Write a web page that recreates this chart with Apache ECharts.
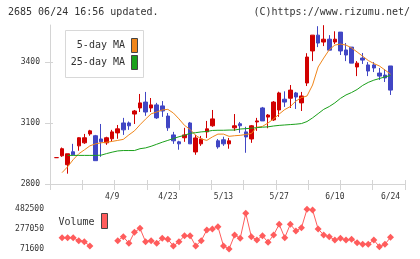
<!DOCTYPE html>
<html>
<head>
<meta charset="utf-8">
<script src="https://cdn.jsdelivr.net/npm/echarts@6/dist/echarts.min.js"></script>
<style>
html, body { margin: 0; padding: 0; background: #fff; }
#chart { width: 420px; height: 259px; }
</style>
</head>
<body>
<div id="chart"></div>
<script>
// 日付（10本ごとにラベル）
var dates = ['3/26', '3/27', '3/28', '3/29', '4/1', '4/2', '4/3', '4/4', '4/5', '4/8',
    '4/9', '4/10', '4/11', '4/12', '4/15', '4/16', '4/17', '4/18', '4/19', '4/22',
    '4/23', '4/24', '4/25', '4/26', '5/1', '5/2', '5/7', '5/8', '5/9', '5/10',
    '5/13', '5/14', '5/15', '5/16', '5/17', '5/20', '5/21', '5/22', '5/23', '5/24',
    '5/27', '5/28', '5/29', '5/30', '5/31', '6/3', '6/4', '6/5', '6/6', '6/7',
    '6/10', '6/11', '6/12', '6/13', '6/14', '6/17', '6/18', '6/19', '6/20', '6/21',
    '6/24'];

var openP = [2930, 2939, 2895, 2959, 2988, 3003, 3047, 3038, 3022, 3003,
    3023, 3052, 3101, 3101, 3145, 3175, 3204, 3175, 3190, 3185,
    3135, 3042, 3008, 3028, 3101, 2958, 2998, 3057, 3087, 3013,
    3018, 2998, 3077, 3097, 3057, 3022, 3106, 3175, 3130, 3116,
    3165, 3218, 3223, 3249, 3200, 3298, 3456, 3534, 3500, 3514,
    3500, 3549, 3461, 3475, 3377, 3421, 3387, 3387, 3347, 3337,
    3382];
var closeP = [2930, 2974, 2949, 2944, 3028, 3028, 3062, 2915, 3008, 3028,
    3057, 3072, 3067, 3087, 3160, 3200, 3155, 3190, 3126, 3160,
    3077, 3013, 2998, 3042, 2998, 3027, 3022, 3072, 3121, 2983,
    2998, 3013, 3087, 3087, 3032, 3087, 3111, 3111, 3140, 3204,
    3249, 3204, 3263, 3229, 3234, 3426, 3534, 3495, 3514, 3460,
    3514, 3456, 3436, 3396, 3396, 3411, 3357, 3372, 3332, 3323,
    3263];
var lowP = [2930, 2934, 2851, 2944, 2964, 2998, 3038, 2915, 2934, 2993,
    3008, 3023, 3042, 3067, 3096, 3155, 3136, 3155, 3121, 3131,
    3062, 2998, 2969, 3008, 2998, 2944, 2988, 3027, 3082, 2974,
    2988, 2974, 3062, 3052, 2954, 3003, 3062, 3111, 3075, 3111,
    3131, 3180, 3175, 3170, 3160, 3283, 3406, 3475, 3480, 3460,
    3490, 3436, 3406, 3396, 3332, 3392, 3332, 3352, 3313, 3303,
    3239];
var highP = [2930, 2980, 2949, 2998, 3030, 3047, 3067, 3042, 3096, 3033,
    3067, 3091, 3126, 3108, 3165, 3244, 3254, 3224, 3200, 3209,
    3150, 3057, 3013, 3077, 3106, 3042, 3037, 3111, 3165, 3022,
    3033, 3027, 3145, 3106, 3082, 3091, 3126, 3180, 3145, 3209,
    3255, 3257, 3288, 3254, 3254, 3445, 3534, 3578, 3583, 3534,
    3553, 3549, 3495, 3475, 3406, 3446, 3401, 3401, 3372, 3367,
    3382];

// 移動平均
var ma5 = [null, 2856, 2885, 2920, 2949, 2968, 2988, 2998, 3003, 3006,
    3010, 3015, 3020, 3042, 3062, 3092, 3120, 3146, 3155, 3165,
    3168, 3150, 3121, 3089, 3069, 3040, 3022, 3015, 3032, 3046,
    3046, 3035, 3038, 3040, 3044, 3049, 3080, 3084, 3101, 3121,
    3145, 3167, 3182, 3209, 3226, 3234, 3288, 3377, 3421, 3462,
    3485, 3490, 3485, 3471, 3451, 3430, 3409, 3394, 3382, 3362,
    3342];
var ma25 = [null, null, 2941, 2941, 2941, 2941, 2941, 2941, 2942, 2950,
    2957, 2963, 2965, 2965, 2965, 2974, 2978, 2986, 2996, 3006,
    3015, 3024, 3033, 3040, 3050, 3053, 3057, 3059, 3064, 3065,
    3065, 3066, 3066, 3071, 3073, 3075, 3078, 3080, 3082, 3086,
    3089, 3091, 3093, 3095, 3098, 3108, 3126, 3147, 3168, 3182,
    3200, 3222, 3239, 3251, 3266, 3286, 3301, 3312, 3320, 3328,
    3335];

// 出来高
var volume = [null, 188600, 188600, 188600, 157500, 147200, 102700, null, null, null,
    null, 157500, 198900, 130600, 244400, 285800, 147200, 157500, 130600, 182300,
    172000, 102700, 147200, 209300, 209300, 102700, 157500, 268300, 278600, 302400,
    102700, 71600, 216500, 182300, 441100, 198900, 164800, 209300, 140900, 216500,
    327200, 188600, 327200, 257900, 292000, 482500, 475200, 278600, 216500, 198900,
    164800, 182300, 164800, 172000, 136800, 120200, 120200, 164800, 95400, 120200,
    192700];

var priceTicks = [2800, 3100, 3400];
var volumeTicks = [71600, 277050, 482500];

var mono = '"DejaVu Sans Mono", monospace';
var axisColor = '#d4d4d4';
var upColor = '#d10000';
var downColor = '#4146c4';
var plain = function (v) { return String(v); };

var candles = [];
for (var i = 0; i < dates.length; i++) {
    candles.push([openP[i], closeP[i], lowP[i], highP[i]]);
}

var myChart = echarts.init(document.getElementById('chart'));
var option = {
    animation: false,
    backgroundColor: '#fff',
    grid: [
        {left: 50, top: 25, width: 355, height: 159},          // 枠・目盛
        {left: 53.7, top: 25, width: 339.6, height: 159},      // ローソク足
        {left: 53.7, top: 209.3, width: 339.6, height: 39.7}   // 出来高
    ],
    xAxis: [
        {
            gridIndex: 0, type: 'value', min: 0, max: 11, interval: 1, position: 'bottom',
            axisLine: {show: true, onZero: false, lineStyle: {color: axisColor}},
            axisTick: {show: true, length: 6, lineStyle: {color: axisColor}},
            axisLabel: {show: false}, splitLine: {show: false}
        },
        {
            gridIndex: 0, type: 'value', min: 0, max: 11, interval: 1, position: 'bottom',
            axisLine: {show: false, onZero: false},
            axisTick: {show: true, inside: true, length: 4, lineStyle: {color: axisColor}},
            axisLabel: {show: false}, splitLine: {show: false}
        },
        {
            gridIndex: 1, type: 'category', data: dates, boundaryGap: true,
            axisLine: {show: false}, axisTick: {show: false}, splitLine: {show: false},
            axisLabel: {
                interval: function (index) {
                    return index > 0 && (dates.length - 1 - index) % 10 === 0;
                },
                fontFamily: mono, fontSize: 8, color: '#333', margin: 9
            }
        },
        {gridIndex: 2, type: 'category', data: dates, boundaryGap: true, show: false}
    ],
    yAxis: [
        {
            gridIndex: 0, type: 'value', min: 2800, max: 3584, position: 'left',
            axisLine: {show: true, onZero: false, lineStyle: {color: axisColor}},
            axisTick: {show: true, length: 5, customValues: priceTicks, lineStyle: {color: axisColor}},
            axisLabel: {customValues: priceTicks, margin: 10, fontFamily: mono, fontSize: 8, color: '#333', formatter: plain},
            splitLine: {show: false}
        },
        {
            gridIndex: 0, type: 'value', min: 2800, max: 3584, position: 'left',
            axisLine: {show: false, onZero: false},
            axisTick: {show: true, inside: true, length: 3, customValues: priceTicks, lineStyle: {color: axisColor}},
            axisLabel: {show: false}, splitLine: {show: false}
        },
        {gridIndex: 1, type: 'value', min: 2800, max: 3584, show: false},
        {
            gridIndex: 2, type: 'value', min: 71600, max: 482500,
            axisLine: {show: false}, axisTick: {show: false}, splitLine: {show: false},
            axisLabel: {customValues: volumeTicks, margin: 9.7, fontFamily: mono, fontSize: 8, color: '#333', formatter: plain}
        }
    ],
    series: [
        {
            name: '5-day MA', type: 'line', xAxisIndex: 2, yAxisIndex: 2, data: ma5,
            showSymbol: false, silent: true,
            lineStyle: {color: '#f0861a', width: 1}
        },
        {
            name: '25-day MA', type: 'line', xAxisIndex: 2, yAxisIndex: 2, data: ma25,
            showSymbol: false, silent: true,
            lineStyle: {color: '#1aa01a', width: 1}
        },
        {
            name: 'price', type: 'candlestick', xAxisIndex: 2, yAxisIndex: 2, data: candles,
            barWidth: 4,
            itemStyle: {
                color: upColor, color0: downColor,
                borderColor: upColor, borderColor0: downColor, borderColorDoji: upColor,
                borderWidth: 1
            }
        },
        {
            name: 'Volume', type: 'line', xAxisIndex: 3, yAxisIndex: 3, data: volume,
            symbol: 'diamond', symbolSize: 7, showSymbol: true, showAllSymbol: true,
            connectNulls: false,
            lineStyle: {color: '#ff5c5c', width: 1},
            itemStyle: {color: '#ff5c5c'}
        }
    ],
    graphic: [
        {type: 'text', z: 100, style: {text: '2685 06/24 16:56 updated.', x: 8, y: 12.5, fill: '#333', font: '10px ' + mono, verticalAlign: 'middle'}},
        {type: 'text', z: 100, style: {text: '(C)https://www.rizumu.net/', x: 410, y: 12.5, fill: '#333', font: '10px ' + mono, align: 'right', verticalAlign: 'middle'}},
        // 凡例
        {type: 'rect', z: 100, shape: {x: 65.5, y: 30.5, width: 78, height: 47}, style: {fill: '#fff', stroke: '#d8d8d8', lineWidth: 1}},
        {type: 'text', z: 101, style: {text: '5-day MA', x: 125, y: 45.5, fill: '#333', font: '10px ' + mono, align: 'right', verticalAlign: 'middle'}},
        {type: 'text', z: 101, style: {text: '25-day MA', x: 125, y: 62.5, fill: '#333', font: '10px ' + mono, align: 'right', verticalAlign: 'middle'}},
        {type: 'rect', z: 101, shape: {x: 131.5, y: 38.5, width: 6, height: 14}, style: {fill: '#f0861a', stroke: '#444', lineWidth: 1}},
        {type: 'rect', z: 101, shape: {x: 131.5, y: 55.5, width: 6, height: 14}, style: {fill: '#1aa01a', stroke: '#444', lineWidth: 1}},
        {type: 'text', z: 101, style: {text: 'Volume', x: 58.5, y: 222.5, fill: '#333', font: '10px ' + mono, verticalAlign: 'middle'}},
        {type: 'rect', z: 101, shape: {x: 101.5, y: 213.5, width: 6, height: 15}, style: {fill: '#ff5c5c', stroke: '#444', lineWidth: 1}}
    ]
};
myChart.setOption(option);
</script>
</body>
</html>
